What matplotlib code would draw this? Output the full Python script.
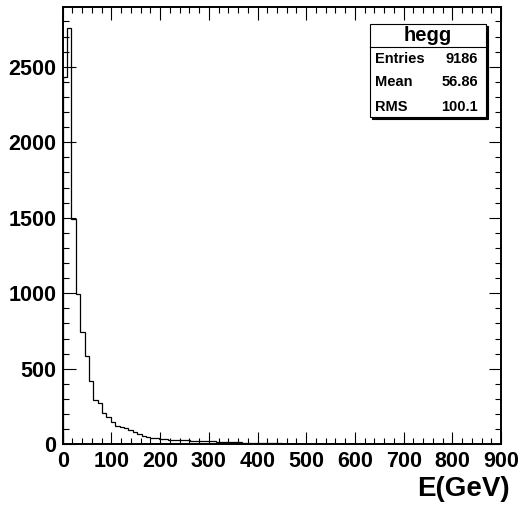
import numpy as np
import matplotlib
matplotlib.use('Agg')
import matplotlib.pyplot as plt
from matplotlib.patches import Rectangle
from matplotlib.ticker import MultipleLocator

plt.rcParams['font.family'] = ['Liberation Sans', 'DejaVu Sans']
plt.rcParams['font.weight'] = 'bold'

# histogram "hegg": 100 bins of 9 GeV between 0 and 900
edges = np.linspace(0, 900, 101)
counts = [2434, 2756, 1490, 995, 745, 582, 417, 296, 273, 205,
          181, 145, 123, 112, 110, 95, 80, 68, 58, 50,
          44, 40, 36, 33, 31, 30, 28, 29, 26, 24,
          25, 22, 21, 20, 19, 17, 18, 15, 14, 13,
          12, 10, 11, 9, 8, 8, 7, 7, 6, 6,
          5, 5, 5, 4, 4, 4, 3, 3, 3, 3,
          2, 3, 2, 2, 2, 2, 1, 2, 1, 1,
          1, 1, 1, 1, 1, 0, 1, 1, 0, 1,
          0, 1, 0, 0, 1, 0, 0, 0, 1, 0,
          0, 0, 0, 1, 0, 0, 0, 0, 0, 0]

stat_names = ['Entries', 'Mean', 'RMS']
stat_values = ['9186', '56.86', '100.1']

fig = plt.figure(figsize=(5.22, 5.07), dpi=100)
ax = fig.add_axes([0.120, 0.1237, 0.840, 0.8619])

ax.stairs(counts, edges, color='black', linewidth=0.9)

ax.set_xlim(0, 900)
ax.set_ylim(0, 1.05 * max(counts))
ax.xaxis.set_major_locator(MultipleLocator(100))
ax.xaxis.set_minor_locator(MultipleLocator(20))
ax.yaxis.set_major_locator(MultipleLocator(500))
ax.yaxis.set_minor_locator(MultipleLocator(100))
ax.tick_params(which='both', direction='in', top=True, right=True, width=0.8)
ax.tick_params(which='major', length=9)
ax.tick_params(which='minor', length=4.5)
ax.tick_params(axis='y', labelsize=15.5, pad=4.5)
ax.tick_params(axis='x', labelsize=15.5, pad=5)
for lab in ax.get_xticklabels() + ax.get_yticklabels():
    lab.set_fontweight('bold')
for sp in ax.spines.values():
    sp.set_linewidth(1.4)

ax.set_xlabel('E(GeV)', fontsize=20, fontweight='bold', ha='right', va='center')
ax.xaxis.set_label_coords(1.0205, -0.102)

# stats box
W, H = 522.0, 507.0
bx0, bx1, by0, by1 = 370, 486, 24, 117
sep = 46.7
shadow = Rectangle(((bx0 + 2) / W, 1 - (by1 + 2) / H), (bx1 - bx0) / W, (by1 - by0) / H,
                   transform=fig.transFigure, facecolor='black', edgecolor='black', lw=0.8)
box = Rectangle((bx0 / W, 1 - by1 / H), (bx1 - bx0) / W, (by1 - by0) / H,
                transform=fig.transFigure, facecolor='white', edgecolor='black', lw=0.8)
fig.patches.extend([shadow, box])
fig.add_artist(plt.Line2D([bx0 / W, bx1 / W], [1 - sep / H, 1 - sep / H],
                          transform=fig.transFigure, color='black', lw=0.8))
fig.text((bx0 + bx1) / 2 / W, 1 - 35.5 / H, 'hegg', ha='center', va='center',
         fontsize=14.5, fontweight='bold')
rows_y = [59.3, 81.7, 106.7]
for name, val, yy in zip(stat_names, stat_values, rows_y):
    fig.text((bx0 + 5) / W, 1 - yy / H, name, ha='left', va='center', fontsize=10.5, fontweight='bold')
    fig.text(478 / W, 1 - yy / H, val, ha='right', va='center', fontsize=10.5, fontweight='bold')

fig.savefig('out.png', dpi=100)
